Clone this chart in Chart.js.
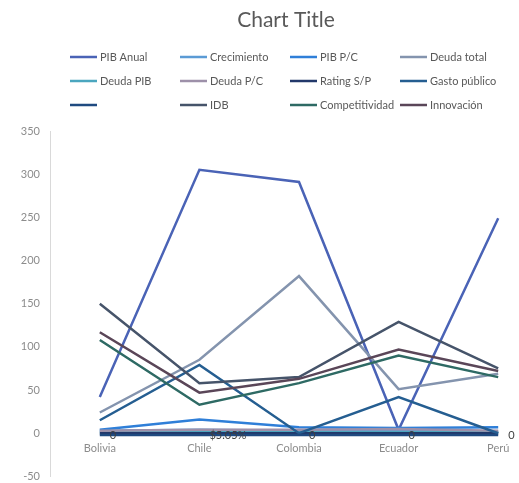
<!DOCTYPE html>
<html>
<head>
<meta charset="utf-8">
<script src="https://cdn.jsdelivr.net/npm/chart.js@4.4.1/dist/chart.umd.min.js"></script>
<style>
  html, body { margin: 0; padding: 0; overflow: hidden; background: #fff; }
  #wrap { position: relative; width: 572px; height: 493px; }
</style>
</head>
<body>
<div id="wrap"><canvas id="chart" width="572" height="493"></canvas></div>
<script>
const countries = ['Bolivia', 'Chile', 'Colombia', 'Ecuador', 'Perú'];

const pibAnual = [42, 305, 291, 4, 249];
const crecimiento = [3, 4, 3, 3, 2];
const pibPC = [4, 16, 7, 6, 7];
const deudaTotal = [24, 85, 182, 51, 69];
const deudaPIB = [1, 1, 1, 1, 1];
const deudaPC = [3, 4, 4, 5, 3];
const ratingSP = [0, 0, 0, 0, 0];
const gastoPublico = [15, 79, 0, 42, 0];
const sinNombre = [-2, -2, -2, -2, -2];
const idb = [150, 58, 65, 129, 75];
const competitividad = [108, 33, 58, 90, 65];
const innovacion = [117, 47, 63, 97, 72];

const ratingLabels = ['0', '$5.05%', '0', '0', '0'];
const yTicks = [-50, 0, 50, 100, 150, 200, 250, 300, 350];

const seriesNames = ['PIB Anual', 'Crecimiento', 'PIB P/C', 'Deuda total', 'Deuda PIB', 'Deuda P/C',
  'Rating S/P', 'Gasto público', '', 'IDB', 'Competitividad', 'Innovación'];
const seriesData = [pibAnual, crecimiento, pibPC, deudaTotal, deudaPIB, deudaPC,
  ratingSP, gastoPublico, sinNombre, idb, competitividad, innovacion];
const seriesColors = ['#4a63b6', '#5b9bd5', '#2f7fd8', '#8494ae', '#4ba6bf', '#9d90a9',
  '#22386a', '#255e91', '#1f4a80', '#46546a', '#2e6a64', '#5a4658'];

const FONT = 'Lato, "Liberation Sans", sans-serif';
const textGray = '#595959';
const axisGray = '#8c8c8c';

// titulo + leyenda en grilla de 4 columnas, como en Excel
const headerPlugin = {
  id: 'header',
  afterDraw(chart) {
    const ctx = chart.ctx;
    ctx.save();
    ctx.fillStyle = textGray;
    ctx.font = '21px ' + FONT;
    ctx.textAlign = 'center';
    ctx.textBaseline = 'middle';
    ctx.fillText('Chart Title', 286, 20);

    const rows = [57, 81, 105];
    ctx.font = '11px ' + FONT;
    ctx.textAlign = 'left';
    seriesNames.forEach((name, i) => {
      const x = 70 + (i % 4) * 110;
      const y = rows[Math.floor(i / 4)];
      ctx.strokeStyle = seriesColors[i];
      ctx.lineWidth = 2.5;
      ctx.beginPath();
      ctx.moveTo(x, y);
      ctx.lineTo(x + 27, y);
      ctx.stroke();
      ctx.fillStyle = textGray;
      ctx.fillText(name, x + 30, y + 0.5);
    });
    ctx.restore();
  },
};

const labelPlugin = {
  id: 'pointLabels',
  afterDatasetsDraw(chart) {
    const idx = seriesNames.indexOf('Rating S/P');
    const meta = chart.getDatasetMeta(idx);
    const ctx = chart.ctx;
    ctx.save();
    ctx.fillStyle = '#404040';
    ctx.font = '11px ' + FONT;
    ctx.textAlign = 'left';
    ctx.textBaseline = 'middle';
    meta.data.forEach((pt, i) => {
      ctx.fillText(ratingLabels[i], pt.x + 10, pt.y + 2);
    });
    ctx.restore();
  },
};

new Chart(document.getElementById('chart'), {
  type: 'line',
  data: {
    labels: countries,
    datasets: seriesData.map((d, i) => ({
      label: seriesNames[i],
      data: d,
      borderColor: seriesColors[i],
      backgroundColor: seriesColors[i],
      borderWidth: 2.5,
      pointRadius: 0,
      tension: 0,
      order: -i,
    })),
  },
  options: {
    responsive: false,
    animation: false,
    layout: { padding: { top: 131, left: 0, right: 24, bottom: 7 } },
    plugins: { legend: { display: false }, tooltip: { enabled: false }, title: { display: false } },
    scales: {
      x: {
        type: 'category',
        offset: true,
        position: { y: 0 },
        grid: { display: false, drawTicks: false },
        border: { display: false },
        ticks: { color: axisGray, font: { family: FONT, size: 11 }, padding: 9, maxRotation: 0 },
      },
      y: {
        min: -50,
        max: 350,
        afterBuildTicks: (scale) => { scale.ticks = yTicks.map((v) => ({ value: v })); },
        afterFit: (scale) => { scale.width = 50; },
        grid: { display: true, color: 'rgba(0,0,0,0)', drawTicks: false },
        border: { display: true, color: '#d9d9d9', width: 1 },
        ticks: { color: axisGray, font: { family: FONT, size: 11 }, padding: 10 },
      },
    },
  },
  plugins: [headerPlugin, labelPlugin],
});
</script>
</body>
</html>
